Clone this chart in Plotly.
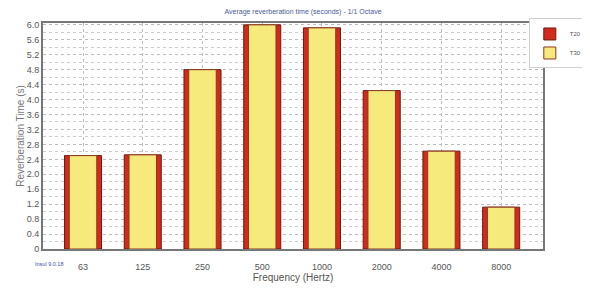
import plotly.graph_objects as go

freqs = ["63", "125", "250", "500", "1000", "2000", "4000", "8000"]
t20 = [2.50, 2.52, 4.80, 6.00, 5.92, 4.24, 2.62, 1.12]
t30 = [2.50, 2.52, 4.80, 6.00, 5.92, 4.24, 2.62, 1.12]
yticks = [0, 0.4, 0.8, 1.2, 1.6, 2.0, 2.4, 2.8, 3.2, 3.6, 4.0, 4.4, 4.8, 5.2, 5.6, 6.0]
ylabels = ["0"] + [f"{v:.1f}" for v in yticks[1:]]

x = list(range(len(freqs)))

fig = go.Figure()
fig.add_bar(x=x, y=t20, name="T20", width=0.62,
            marker=dict(color="#d42a1e", line=dict(color="#6b1a10", width=1)))
fig.add_bar(x=x, y=t30, name="T30", width=0.46,
            marker=dict(color="#f7ea7c", line=dict(color="#8a3a20", width=1)))

fig.update_layout(
    width=590, height=289,
    barmode="overlay",
    paper_bgcolor="white", plot_bgcolor="white",
    margin=dict(l=35, r=53, t=10, b=48),
    font=dict(family="Liberation Sans, Arial, sans-serif", size=9, color="#555"),
    title=dict(text="Average reverberation time (seconds) - 1/1 Octave", x=0.52, xanchor="center",
               xref="paper", y=0.995, yanchor="top", font=dict(size=7, color="#4a5a9a")),
    showlegend=True,
    legend=dict(x=1.0896, y=1.02, xanchor="right", yanchor="top", bgcolor="white",
                bordercolor="#d0d0d0", borderwidth=1, font=dict(size=6, color="#555"),
                itemwidth=30, tracegroupgap=0),
    xaxis=dict(range=[-0.67, 7.7], tickvals=x, ticktext=freqs, showgrid=True,
               gridcolor="#bbbbbb", griddash="dot", gridwidth=1,
               showline=True, linecolor="#777", linewidth=2, mirror=True,
               ticks="", ticklabelstandoff=8,
               title=dict(text="Frequency (Hertz)", standoff=0,
                          font=dict(size=10, color="#555"))),
    yaxis=dict(range=[0, 6.05], tickvals=yticks, ticktext=ylabels, showgrid=True,
               gridcolor="#bbbbbb", griddash="dot", gridwidth=1,
               minor=dict(dtick=0.2, showgrid=True, gridcolor="#cccccc", griddash="dot"),
               showline=True, linecolor="#777", linewidth=2, mirror=True,
               ticks="", zeroline=False,
               title=dict(text="Reverberation Time (s)", standoff=0,
                          font=dict(size=10, color="#777"))),
)
fig.add_annotation(text="Insul 9.0.18", xref="paper", yref="paper", x=-0.02, y=-0.045,
                   xanchor="left", yanchor="top", showarrow=False,
                   font=dict(size=5.5, color="#3a4fb0"))
fig.write_html("out.html")
